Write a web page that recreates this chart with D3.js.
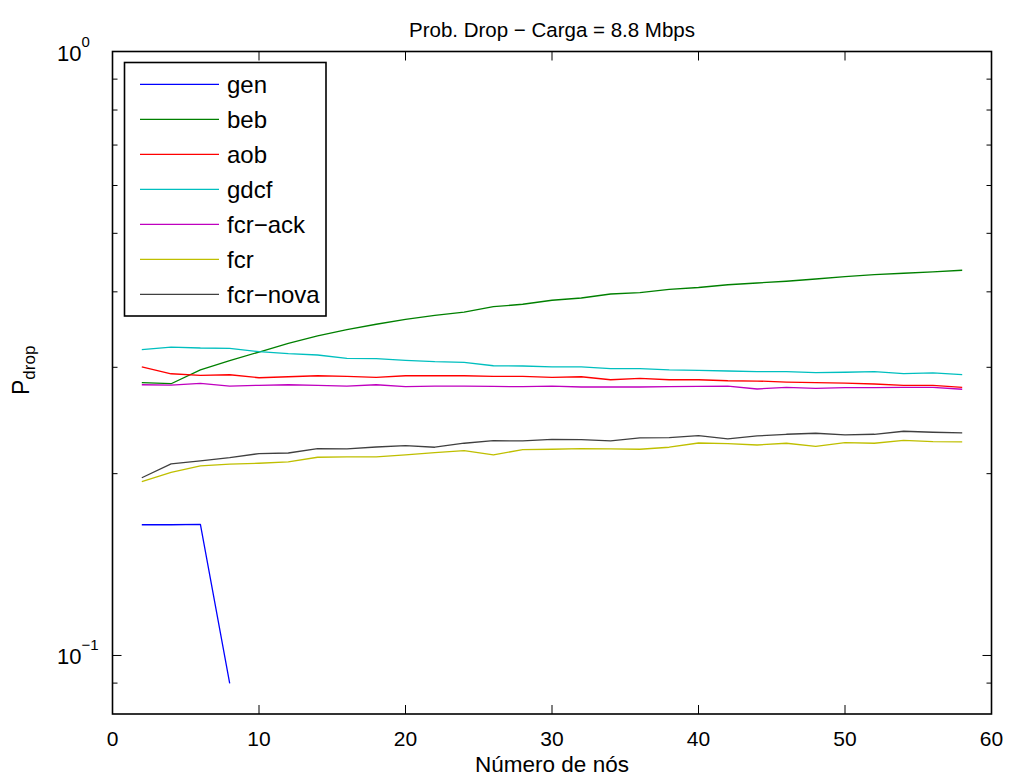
<!DOCTYPE html>
<html><head><meta charset="utf-8">
<script src="https://cdn.jsdelivr.net/npm/d3@7"></script>
<style>body{margin:0;background:#fff} text{font-family:"Liberation Sans",Arial,Helvetica,sans-serif;fill:#000}</style>
</head><body><svg id="c" width="1011" height="780"></svg>
<script>
// ---- data ----
const nodes = [2,4,6,8,10,12,14,16,18,20,22,24,26,28,30,32,34,36,38,40,42,44,46,48,50,52,54,56,58];
const genNodes = [2,4,6,8];
const gen = [0.1646,0.1646,0.1648,0.0899];
const beb = [0.2829,0.2818,0.2970,0.3077,0.3180,0.3287,0.3381,0.3463,0.3535,0.3602,0.3658,0.3701,0.3780,0.3815,0.3874,0.3907,0.3967,0.3987,0.4039,0.4067,0.4110,0.4137,0.4165,0.4201,0.4239,0.4271,0.4294,0.4315,0.4343];
const aob = [0.3006,0.2927,0.2910,0.2916,0.2883,0.2894,0.2905,0.2899,0.2888,0.2905,0.2905,0.2905,0.2899,0.2899,0.2888,0.2894,0.2861,0.2876,0.2861,0.2861,0.2850,0.2847,0.2836,0.2829,0.2825,0.2815,0.2801,0.2801,0.2780];
const gdcf = [0.3208,0.3241,0.3229,0.3225,0.3184,0.3160,0.3144,0.3105,0.3100,0.3081,0.3065,0.3058,0.3018,0.3015,0.3004,0.3004,0.2984,0.2984,0.2970,0.2966,0.2958,0.2951,0.2951,0.2939,0.2944,0.2951,0.2928,0.2936,0.2917];
const fcrAck = [0.2807,0.2804,0.2822,0.2793,0.2801,0.2807,0.2801,0.2793,0.2807,0.2786,0.2793,0.2793,0.2790,0.2786,0.2793,0.2783,0.2783,0.2783,0.2786,0.2790,0.2793,0.2762,0.2780,0.2769,0.2776,0.2776,0.2780,0.2780,0.2759];
const fcr = [0.1940,0.2010,0.2060,0.2074,0.2081,0.2092,0.2129,0.2132,0.2132,0.2148,0.2167,0.2183,0.2148,0.2192,0.2195,0.2200,0.2198,0.2195,0.2212,0.2248,0.2242,0.2231,0.2246,0.2220,0.2251,0.2246,0.2271,0.2260,0.2257];
const fcrNova = [0.1969,0.2076,0.2100,0.2126,0.2159,0.2164,0.2200,0.2198,0.2214,0.2225,0.2212,0.2246,0.2268,0.2266,0.2280,0.2277,0.2266,0.2292,0.2294,0.2312,0.2283,0.2309,0.2324,0.2333,0.2318,0.2324,0.2351,0.2342,0.2336];
const seriesNames = ["gen","beb","aob","gdcf","fcr\u2212ack","fcr","fcr\u2212nova"];
const seriesColors = ["#0000ff","#008000","#ff0000","#00bfbf","#bf00bf","#bfbf00","#404040"];
const xTicks = [0,10,20,30,40,50,60];
const yMajor = [0.1,1];
const yMajorExp = ["\u22121","0"];
const yMinor = [0.09,0.2,0.3,0.4,0.5,0.6,0.7,0.8,0.9];
const titleText = "Prob. Drop \u2212 Carga = 8.8 Mbps";
const xLabelText = "N\u00famero de n\u00f3s";

// ---- layout ----
const L = 112.5, R = 991.5, T = 51.5, B = 714;
const svg = d3.select("#c");
const x = d3.scaleLinear().domain([0,60]).range([L,R]);
const y = d3.scaleLog().domain([0.08,1]).range([B,T]);

const series = [
  {xs: genNodes, vs: gen},
  {xs: nodes, vs: beb},
  {xs: nodes, vs: aob},
  {xs: nodes, vs: gdcf},
  {xs: nodes, vs: fcrAck},
  {xs: nodes, vs: fcr},
  {xs: nodes, vs: fcrNova}
];

svg.append("rect").attr("x",0).attr("y",0).attr("width",1011).attr("height",780).attr("fill","#fff");

const clip = svg.append("defs").append("clipPath").attr("id","pc");
clip.append("rect").attr("x",L).attr("y",T).attr("width",R-L).attr("height",B-T);

const line = d3.line().x(d=>x(d[0])).y(d=>y(d[1]));
const g = svg.append("g").attr("clip-path","url(#pc)");
series.forEach((s,i)=>{
  g.append("path").attr("d", line(s.xs.map((xv,j)=>[xv,s.vs[j]])))
   .attr("fill","none").attr("stroke",seriesColors[i]).attr("stroke-width",1.3)
   .attr("stroke-linejoin","round");
});

// axes ticks (inward, both sides)
const ax = svg.append("g").attr("stroke","#000").attr("stroke-width",1);
xTicks.forEach(t=>{
  ax.append("line").attr("x1",x(t)).attr("x2",x(t)).attr("y1",B).attr("y2",B-9);
  ax.append("line").attr("x1",x(t)).attr("x2",x(t)).attr("y1",T).attr("y2",T+9);
});
yMajor.forEach(t=>{
  ax.append("line").attr("x1",L).attr("x2",L+9).attr("y1",y(t)).attr("y2",y(t));
  ax.append("line").attr("x1",R).attr("x2",R-9).attr("y1",y(t)).attr("y2",y(t));
});
yMinor.forEach(t=>{
  ax.append("line").attr("x1",L).attr("x2",L+5).attr("y1",y(t)).attr("y2",y(t));
  ax.append("line").attr("x1",R).attr("x2",R-5).attr("y1",y(t)).attr("y2",y(t));
});
svg.append("rect").attr("x",L).attr("y",T).attr("width",R-L).attr("height",B-T)
  .attr("fill","none").attr("stroke","#000").attr("stroke-width",1.6);

// x tick labels
svg.append("g").selectAll("text").data(xTicks).join("text")
  .attr("x",d=>x(d)).attr("y",B+32).attr("text-anchor","middle")
  .attr("font-size",21).text(d=>d);

// y tick labels
yMajor.forEach((t,i)=>{
  const tx = svg.append("text").attr("x",57).attr("y",y(t)+9).attr("font-size",22);
  tx.append("tspan").text("10");
  tx.append("tspan").attr("dy",-14).attr("font-size",15).text(yMajorExp[i]);
});

// title
svg.append("text").attr("x",(L+R)/2).attr("y",37).attr("text-anchor","middle")
  .attr("font-size",20.5).text(titleText);
// x label
svg.append("text").attr("x",(L+R)/2).attr("y",772).attr("text-anchor","middle")
  .attr("font-size",22.5).text(xLabelText);
// y label
const yl = svg.append("text").attr("transform","translate(29,395) rotate(-90)").attr("font-size",23);
yl.append("tspan").text("P");
yl.append("tspan").attr("dy",6).attr("font-size",17).text("drop");

// legend
const lg = svg.append("g");
lg.append("rect").attr("x",124.5).attr("y",62.5).attr("width",201.5).attr("height",253.5)
  .attr("fill","#fff").attr("stroke","#000").attr("stroke-width",1.6);
seriesNames.forEach((n,i)=>{
  const cy = 84.3 + 35*i;
  lg.append("line").attr("x1",140).attr("x2",219).attr("y1",cy).attr("y2",cy)
    .attr("stroke",seriesColors[i]).attr("stroke-width",1.3);
  lg.append("text").attr("x",227).attr("y",cy+8.5).attr("font-size",24).text(n);
});
</script></body></html>
